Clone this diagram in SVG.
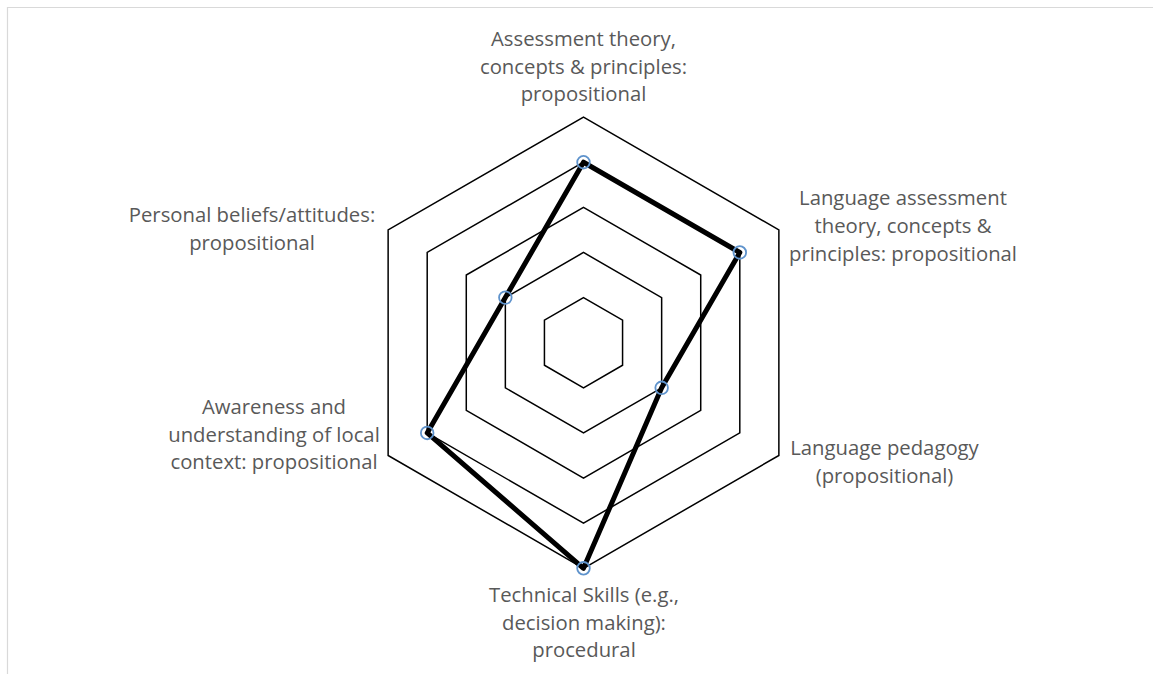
<svg xmlns="http://www.w3.org/2000/svg" width="1153" height="674" viewBox="0 0 1153 674">
<style>
.ring{fill:none;stroke:#000;stroke-width:1.5;stroke-linejoin:miter}
.lbl{font-family:"Open Sans","Liberation Sans",sans-serif;font-size:20.3px;fill:#595959;text-anchor:middle}
.mk{fill:none;stroke:#5f93cc;stroke-width:1.8}
</style>
<rect width="1153" height="674" fill="#fff"/>
<path d="M7.5,674 V7.5 H1153" fill="none" stroke="#d9d9d9" stroke-width="1.2"/>
<g id="grid">
<polygon class="ring" points="583.5,297.58 622.57,320.14 622.57,365.26 583.5,387.82 544.43,365.26 544.43,320.14"/>
<polygon class="ring" points="583.5,252.46 661.65,297.58 661.65,387.82 583.5,432.94 505.35,387.82 505.35,297.58"/>
<polygon class="ring" points="583.5,207.34 700.72,275.02 700.72,410.38 583.5,478.06 466.28,410.38 466.28,275.02"/>
<polygon class="ring" points="583.5,162.22 739.8,252.46 739.8,432.94 583.5,523.18 427.2,432.94 427.2,252.46"/>
<polygon class="ring" points="583.5,117.1 778.87,229.9 778.87,455.5 583.5,568.3 388.13,455.5 388.13,229.9"/>
</g>
<g id="connectors">
<polygon points="583.5,162.22 739.8,252.46 661.65,387.82 583.5,568.3 427.2,432.94 505.35,297.58" fill="none" stroke="#000" stroke-width="5" stroke-linejoin="round"/>
</g>
<g id="markers">
<circle class="mk" cx="583.5" cy="162.22" r="6.3"/>
<circle class="mk" cx="739.8" cy="252.46" r="6.3"/>
<circle class="mk" cx="661.65" cy="387.82" r="6.3"/>
<circle class="mk" cx="583.5" cy="568.3" r="6.3"/>
<circle class="mk" cx="427.2" cy="432.94" r="6.3"/>
<circle class="mk" cx="505.35" cy="297.58" r="6.3"/>
</g>
<g id="label-top">
<text class="lbl" x="583.5" y="45.7">Assessment theory,</text>
<text class="lbl" x="583.5" y="73.5">concepts &amp; principles:</text>
<text class="lbl" x="583.5" y="101.3">propositional</text>
</g>
<g id="label-upper-right">
<text class="lbl" x="903" y="205">Language assessment</text>
<text class="lbl" x="903" y="233">theory, concepts &amp;</text>
<text class="lbl" x="903" y="261">principles: propositional</text>
</g>
<g id="label-lower-right">
<text class="lbl" x="884.5" y="455">Language pedagogy</text>
<text class="lbl" x="884.5" y="483">(propositional)</text>
</g>
<g id="label-bottom">
<text class="lbl" x="584" y="601.7">Technical Skills (e.g.,</text>
<text class="lbl" x="584" y="629.5">decision making):</text>
<text class="lbl" x="584" y="657">procedural</text>
</g>
<g id="label-lower-left">
<text class="lbl" x="274" y="414">Awareness and</text>
<text class="lbl" x="274" y="442">understanding of local</text>
<text class="lbl" x="274" y="469">context: propositional</text>
</g>
<g id="label-upper-left">
<text class="lbl" x="252" y="222">Personal beliefs/attitudes:</text>
<text class="lbl" x="252" y="249.5">propositional</text>
</g>
</svg>
